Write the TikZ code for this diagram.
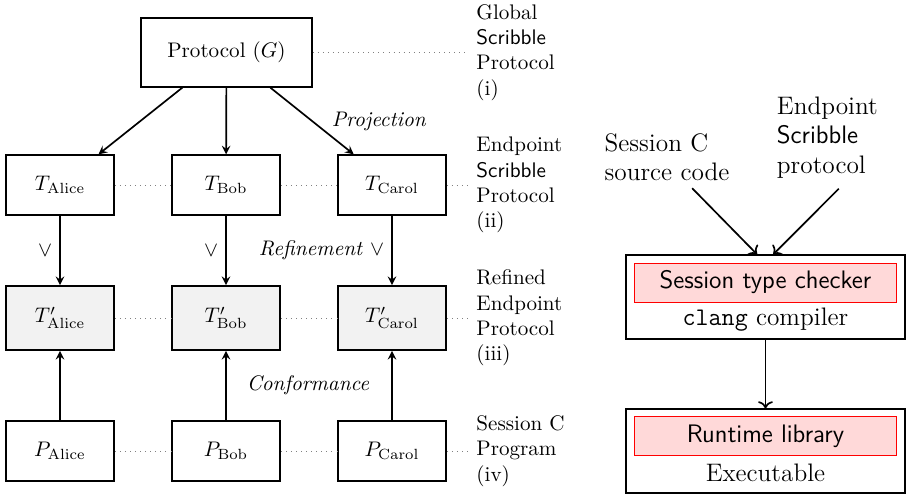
\documentclass[tikz,border=0pt]{standalone}
\usepackage{tikz}
\usetikzlibrary{arrows.meta, positioning, calc}

\begin{document}
\begin{tikzpicture}[
  box/.style={draw, semithick, minimum width=1.8cm, minimum height=1cm},
  refbox/.style={box, thick, fill=gray!10, minimum height=1.07cm},
  progbox/.style={box, thick},
  toolbox/.style={draw, semithick, minimum width=4.65cm, minimum height=1.4cm},
  redbox/.style={draw=red, fill=red!15, minimum width=4.38cm, minimum height=0.65cm, font=\large\sffamily},
  tooltxt/.style={font=\large},
  lvl/.style={align=left, anchor=west},
  flow/.style={-stealth, thick},
  feed/.style={->, thick},
  guide/.style={dotted, gray}
]
  \useasboundingbox (0,0) rectangle (15.167,-8.267);

  % Global protocol
  \node[box, minimum width=2.85cm, minimum height=1.15cm] (protocol) at (3.775,-0.875) {Protocol ($G$)};

  % Projected endpoint types
  \node[box] (talice) at (1.0,-3.083) {$T_{\mathrm{Alice}}$};
  \node[box] (tbob) at (3.767,-3.083) {$T_{\mathrm{Bob}}$};
  \node[box] (tcarol) at (6.533,-3.083) {$T_{\mathrm{Carol}}$};

  % Refined endpoint types
  \node[refbox] (ralice) at (1.0,-5.3) {$T'_{\mathrm{Alice}}$};
  \node[refbox] (rbob) at (3.767,-5.3) {$T'_{\mathrm{Bob}}$};
  \node[refbox] (rcarol) at (6.533,-5.3) {$T'_{\mathrm{Carol}}$};

  % Programs
  \node[progbox] (palice) at (1.0,-7.517) {$P_{\mathrm{Alice}}$};
  \node[progbox] (pbob) at (3.767,-7.517) {$P_{\mathrm{Bob}}$};
  \node[progbox] (pcarol) at (6.533,-7.517) {$P_{\mathrm{Carol}}$};

  % Level labels
  \node[lvl] (lvlglobal) at (7.817,-0.875) {Global\\\textsf{Scribble}\\Protocol\\(i)};
  \node[lvl] (lvlendpt) at (7.817,-3.083) {Endpoint\\\textsf{Scribble}\\Protocol\\(ii)};
  \node[lvl] (lvlrefined) at (7.817,-5.3) {Refined\\Endpoint\\Protocol\\(iii)};
  \node[lvl] (lvlprog) at (7.817,-7.517) {Session C\\Program\\(iv)};

  % Dotted guides
  \draw[guide] (protocol) -- (lvlglobal);
  \draw[guide] (talice) -- (tbob);
  \draw[guide] (tbob) -- (tcarol);
  \draw[guide] (tcarol) -- (lvlendpt);
  \draw[guide] (ralice) -- (rbob);
  \draw[guide] (rbob) -- (rcarol);
  \draw[guide] (rcarol) -- (lvlrefined);
  \draw[guide] (palice) -- (pbob);
  \draw[guide] (pbob) -- (pcarol);
  \draw[guide] (pcarol) -- (lvlprog);

  % Projection
  \draw[flow] (protocol) -- (talice);
  \draw[flow] (protocol) -- (tbob);
  \draw[flow] (protocol) -- (tcarol) node[midway, right=0.2cm] {\textit{Projection}};

  % Refinement
  \draw[flow] (talice) -- (ralice) node[midway, left] {$\vee$};
  \draw[flow] (tbob) -- (rbob) node[midway, left] {$\vee$};
  \draw[flow] (tcarol) -- (rcarol) node[midway, left] {\textit{Refinement} $\vee$};

  % Conformance
  \draw[flow] (palice) -- (ralice);
  \draw[flow] (pbob) -- (rbob);
  \draw[flow] (pcarol) -- (rcarol) node[midway, left=0.25cm] {\textit{Conformance}};

  % Toolchain
  \node[tooltxt, align=left] (src) at (11.117,-2.617) {Session C\\source code};
  \node[tooltxt, align=left] (endp) at (13.79,-2.292) {Endpoint\\\textsf{Scribble}\\protocol};

  \node[toolbox] (compiler) at (12.758,-4.95) {};
  \node[redbox] (checker) at (12.758,-4.708) {Session type checker};
  \node[tooltxt] (clangtxt) at (12.758,-5.333) {\texttt{clang} compiler};

  \node[toolbox] (runtime) at (12.758,-7.517) {};
  \node[redbox] (rtlib) at (12.758,-7.267) {Runtime library};
  \node[tooltxt] (exectxt) at (12.758,-7.883) {Executable};

  \draw[feed] ($(src.south)+(0.42,0)$) -- ($(compiler.north)+(-0.14,0)$);
  \draw[feed] ($(endp.south)+(0.19,-0.05)$) -- ($(compiler.north)+(0.13,0)$);
  \draw[feed] (compiler) -- (runtime);
\end{tikzpicture}
\end{document}
